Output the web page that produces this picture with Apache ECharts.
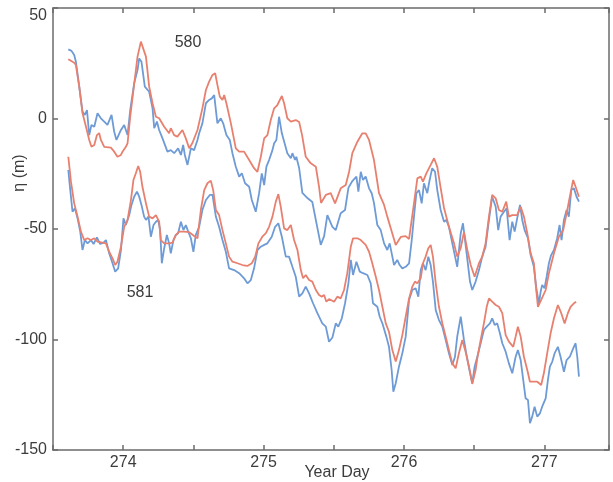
<!DOCTYPE html>
<html>
<head>
<meta charset="utf-8">
<script src="https://cdn.jsdelivr.net/npm/echarts@6/dist/echarts.min.js"></script>
<style>html,body{margin:0;padding:0;background:#fff}#c{width:613px;height:482px}</style>
</head>
<body>
<div id="c"></div>
<script>
// Year day ticks (labelled) and eta ticks
var xTickLabels = [274, 275, 276, 277];
var yTickLabels = [-150, -100, -50, 0, 50];
var seriesNames = ['580', '581'];

// Station 580, red trace  [year day, eta (m)]
var r580 = [[273.609,26.8],[273.651,25.2],[273.663,24.2],[273.687,14.4],[273.710,2.5],[273.735,-3.7],[273.758,-9.7],[273.774,-12.8],[273.794,-12.0],[273.813,-7.5],[273.829,-6.6],[273.841,-9.7],[273.865,-12.8],[273.912,-13.2],[273.936,-15.0],[273.959,-17.3],[273.984,-16.5],[273.995,-15.0],[274.019,-12.8],[274.031,-11.2],[274.050,0.8],[274.073,12.9],[274.102,28.0],[274.126,34.8],[274.137,34.8],[274.162,28.0],[274.185,14.4],[274.209,6.9],[274.233,0.8],[274.256,0.1],[274.292,-3.7],[274.327,-6.7],[274.339,-4.4],[274.363,-7.5],[274.386,-8.2],[274.422,-5.2],[274.446,-9.0],[274.470,-13.5],[274.493,-11.1],[274.529,-5.2],[274.564,4.6],[274.589,12.9],[274.612,16.7],[274.636,19.7],[274.655,20.5],[274.671,15.2],[274.688,9.9],[274.707,8.4],[274.719,10.6],[274.735,6.9],[274.767,-2.2],[274.802,-13.5],[274.826,-15.0],[274.861,-15.0],[274.897,-18.8],[274.932,-22.5],[274.956,-24.1],[274.980,-17.3],[275.004,-9.0],[275.027,-7.5],[275.051,-0.7],[275.075,4.6],[275.098,6.1],[275.130,10.2],[275.146,6.9],[275.169,0.1],[275.194,-1.4],[275.229,-0.7],[275.253,-1.6],[275.274,-7.5],[275.300,-17.3],[275.336,-20.3],[275.372,-21.8],[275.395,-30.9],[275.409,-38.2],[275.443,-34.6],[275.478,-33.8],[275.509,-38.4],[275.549,-31.6],[275.585,-30.1],[275.609,-24.1],[275.632,-15.7],[275.668,-10.5],[275.703,-6.7],[275.727,-6.7],[275.751,-9.7],[275.786,-18.8],[275.822,-33.8],[275.858,-39.1],[275.881,-44.4],[275.905,-49.5],[275.941,-57.2],[275.977,-53.6],[276.012,-53.2],[276.036,-54.5],[276.071,-38.4],[276.095,-27.1],[276.119,-26.3],[276.135,-28.6],[276.159,-24.8],[276.190,-21.0],[276.214,-18.0],[276.237,-21.9],[276.261,-31.4],[276.285,-40.5],[276.320,-49.0],[276.356,-56.5],[276.379,-62.5],[276.404,-58.6],[276.427,-51.4],[276.451,-59.5],[276.475,-66.3],[276.503,-71.6],[276.534,-65.5],[276.557,-62.5],[276.581,-56.5],[276.605,-44.4],[276.628,-34.6],[276.653,-36.1],[276.676,-41.4],[276.700,-42.2],[276.728,-37.6],[276.747,-44.4],[276.771,-43.7],[276.806,-43.7],[276.831,-39.9],[276.854,-44.4],[276.878,-51.9],[276.902,-61.0],[276.925,-65.5],[276.937,-74.6],[276.954,-85.2],[276.977,-82.1],[277.009,-77.6],[277.032,-70.0],[277.068,-61.0],[277.103,-53.5],[277.134,-50.5],[277.158,-42.9],[277.181,-35.4],[277.205,-27.8],[277.222,-30.9],[277.246,-35.4]];

// Station 580, blue trace
var b580 = [[273.609,31.3],[273.632,30.6],[273.651,28.7],[273.663,25.7],[273.687,14.4],[273.710,3.1],[273.727,1.6],[273.742,3.8],[273.758,-7.5],[273.774,-2.9],[273.794,-3.7],[273.817,2.4],[273.841,0.1],[273.865,-1.4],[273.888,-2.9],[273.917,1.6],[273.936,-6.0],[273.952,-9.7],[273.984,-5.2],[274.007,-2.9],[274.031,-7.5],[274.050,3.8],[274.078,15.9],[274.102,21.9],[274.114,27.2],[274.130,25.7],[274.154,14.4],[274.185,12.1],[274.209,4.6],[274.221,-4.4],[274.240,-1.4],[274.256,-5.2],[274.280,-9.0],[274.315,-15.0],[274.339,-14.3],[274.363,-15.7],[274.391,-13.5],[274.411,-16.5],[274.427,-12.0],[274.439,-16.5],[274.458,-21.0],[274.482,-13.5],[274.505,-14.3],[274.529,-9.7],[274.541,-6.7],[274.564,-2.2],[274.589,6.9],[274.612,8.4],[274.631,9.1],[274.648,10.6],[274.671,-2.2],[274.695,0.1],[274.712,-2.2],[274.735,-7.5],[274.759,-9.7],[274.778,-15.7],[274.802,-21.8],[274.826,-26.3],[274.845,-24.8],[274.868,-29.3],[274.897,-30.9],[274.916,-36.9],[274.944,-42.2],[274.968,-33.8],[274.987,-24.8],[275.004,-30.1],[275.020,-21.8],[275.039,-18.8],[275.063,-14.3],[275.075,-11.2],[275.091,-9.7],[275.110,0.8],[275.130,-6.7],[275.153,-12.0],[275.169,-15.7],[275.194,-18.0],[275.205,-15.7],[275.224,-18.8],[275.233,-17.3],[275.253,-22.4],[275.276,-33.7],[275.312,-36.0],[275.347,-37.8],[275.383,-49.5],[275.407,-57.2],[275.431,-53.2],[275.454,-43.7],[275.490,-49.0],[275.514,-50.5],[275.549,-42.9],[275.580,-41.4],[275.604,-31.4],[275.632,-28.3],[275.661,-26.3],[275.675,-33.1],[275.692,-24.1],[275.708,-27.8],[275.727,-26.3],[275.751,-31.6],[275.770,-33.8],[275.786,-38.2],[275.810,-48.2],[275.834,-50.5],[275.858,-56.5],[275.881,-59.5],[275.898,-56.5],[275.917,-62.5],[275.929,-66.3],[275.952,-64.0],[275.969,-66.3],[275.988,-67.8],[276.012,-67.1],[276.036,-65.5],[276.055,-55.0],[276.071,-44.4],[276.088,-33.8],[276.107,-32.4],[276.126,-38.4],[276.142,-29.3],[276.166,-33.8],[276.178,-29.3],[276.190,-25.6],[276.201,-22.5],[276.221,-24.1],[276.237,-32.4],[276.261,-41.4],[276.285,-46.7],[276.301,-45.9],[276.320,-49.0],[276.344,-56.5],[276.379,-67.1],[276.404,-51.9],[276.420,-47.4],[276.446,-61.0],[276.470,-73.8],[276.486,-77.6],[276.510,-73.8],[276.534,-68.6],[276.557,-62.5],[276.581,-58.0],[276.605,-45.9],[276.628,-35.4],[276.653,-39.9],[276.671,-50.5],[276.688,-44.4],[276.712,-42.2],[276.731,-40.6],[276.752,-55.0],[276.771,-46.7],[276.788,-51.2],[276.806,-45.2],[276.826,-39.1],[276.842,-45.9],[276.859,-50.5],[276.883,-54.2],[276.902,-61.8],[276.925,-67.1],[276.944,-77.6],[276.961,-83.6],[276.973,-78.4],[276.984,-75.3],[277.001,-76.8],[277.016,-71.6],[277.032,-65.5],[277.048,-61.8],[277.068,-59.5],[277.091,-54.2],[277.108,-48.2],[277.122,-55.0],[277.139,-45.9],[277.158,-41.4],[277.174,-44.4],[277.191,-32.4],[277.210,-31.6],[277.229,-35.4],[277.246,-37.6]];

// Station 581, red trace
var r581 = [[273.609,-17.3],[273.628,-28.6],[273.651,-38.4],[273.675,-44.4],[273.699,-51.2],[273.722,-55.0],[273.746,-54.2],[273.770,-55.0],[273.794,-54.2],[273.817,-55.7],[273.853,-56.2],[273.877,-56.5],[273.900,-60.3],[273.924,-63.3],[273.943,-66.3],[273.959,-64.8],[273.984,-58.0],[274.007,-49.0],[274.031,-45.9],[274.055,-36.9],[274.073,-27.8],[274.090,-24.8],[274.107,-21.5],[274.121,-24.1],[274.137,-30.9],[274.162,-38.4],[274.185,-44.4],[274.209,-45.2],[274.233,-43.7],[274.256,-46.7],[274.268,-55.0],[274.292,-56.5],[274.327,-56.5],[274.351,-56.2],[274.375,-52.7],[274.399,-51.2],[274.434,-51.2],[274.470,-51.4],[274.505,-53.2],[274.529,-54.2],[274.553,-41.4],[274.577,-32.4],[274.600,-29.3],[274.624,-28.1],[274.641,-32.4],[274.660,-41.4],[274.683,-43.7],[274.707,-50.5],[274.731,-56.5],[274.754,-62.5],[274.778,-64.8],[274.814,-65.5],[274.849,-66.3],[274.885,-66.7],[274.916,-65.5],[274.940,-62.5],[274.963,-56.5],[274.991,-53.5],[275.016,-51.9],[275.039,-49.0],[275.063,-44.4],[275.087,-37.6],[275.105,-34.2],[275.122,-39.9],[275.146,-49.7],[275.169,-50.5],[275.194,-48.2],[275.217,-55.0],[275.241,-59.5],[275.265,-68.6],[275.281,-72.3],[275.300,-70.8],[275.324,-73.1],[275.347,-73.8],[275.372,-77.6],[275.395,-79.9],[275.414,-80.6],[275.431,-79.9],[275.447,-82.9],[275.466,-81.7],[275.502,-82.9],[275.525,-80.6],[275.549,-81.4],[275.573,-77.6],[275.596,-70.0],[275.621,-58.0],[275.637,-54.2],[275.668,-54.2],[275.692,-55.0],[275.727,-57.2],[275.751,-60.3],[275.774,-65.5],[275.799,-71.6],[275.822,-77.6],[275.846,-85.2],[275.870,-92.7],[275.893,-96.5],[275.917,-104.8],[275.941,-110.0],[275.964,-104.8],[275.988,-98.0],[276.012,-89.7],[276.036,-81.4],[276.059,-76.1],[276.078,-73.8],[276.095,-74.6],[276.119,-72.3],[276.135,-65.5],[276.154,-62.5],[276.173,-58.7],[276.190,-57.2],[276.206,-62.5],[276.226,-74.6],[276.249,-85.2],[276.273,-92.7],[276.297,-98.7],[276.320,-104.8],[276.344,-110.8],[276.368,-113.0],[276.391,-106.2],[276.415,-100.2],[276.439,-105.7],[276.463,-112.3],[276.486,-120.1],[276.510,-113.8],[276.522,-108.5],[276.546,-100.2],[276.569,-92.7],[276.589,-85.2],[276.605,-81.4],[276.628,-82.9],[276.653,-84.4],[276.676,-85.2],[276.700,-88.1],[276.724,-98.0],[276.747,-101.0],[276.778,-103.3],[276.795,-98.7],[276.811,-94.2],[276.831,-98.7],[276.854,-107.8],[276.878,-113.8],[276.897,-119.1],[276.925,-119.1],[276.949,-119.1],[276.977,-120.6],[276.996,-115.3],[277.020,-106.2],[277.044,-97.2],[277.068,-90.4],[277.096,-84.4],[277.120,-88.1],[277.144,-92.7],[277.167,-88.1],[277.186,-85.2],[277.210,-83.6],[277.226,-82.9]];

// Station 581, blue trace
var b581 = [[273.609,-23.3],[273.623,-32.4],[273.639,-42.2],[273.656,-40.6],[273.675,-45.2],[273.694,-51.2],[273.710,-59.5],[273.727,-55.0],[273.746,-56.5],[273.770,-55.0],[273.789,-56.8],[273.813,-53.8],[273.836,-56.8],[273.860,-56.2],[273.877,-55.0],[273.900,-61.0],[273.924,-65.5],[273.943,-69.3],[273.964,-67.8],[273.984,-59.5],[274.002,-45.2],[274.019,-48.2],[274.043,-43.7],[274.059,-39.1],[274.078,-35.4],[274.098,-33.1],[274.114,-35.4],[274.130,-39.1],[274.149,-44.4],[274.162,-45.9],[274.180,-44.4],[274.197,-53.5],[274.216,-48.2],[274.233,-46.7],[274.249,-45.9],[274.263,-50.5],[274.275,-65.5],[274.292,-58.7],[274.311,-52.7],[274.327,-56.5],[274.339,-61.0],[274.358,-55.0],[274.375,-52.7],[274.391,-51.9],[274.411,-46.7],[274.429,-50.5],[274.446,-48.2],[274.463,-51.2],[274.482,-54.2],[274.500,-60.3],[274.517,-52.7],[274.541,-49.0],[274.564,-41.4],[274.589,-36.9],[274.617,-34.6],[274.636,-34.6],[274.660,-44.4],[274.683,-49.0],[274.707,-55.0],[274.731,-60.3],[274.754,-67.8],[274.790,-68.6],[274.826,-70.0],[274.861,-72.3],[274.885,-74.6],[274.909,-73.1],[274.932,-67.8],[274.956,-59.5],[274.980,-58.0],[275.004,-57.2],[275.027,-56.5],[275.058,-53.5],[275.082,-49.0],[275.105,-47.4],[275.130,-53.5],[275.158,-62.5],[275.181,-62.5],[275.205,-67.1],[275.229,-71.6],[275.253,-80.6],[275.276,-79.1],[275.300,-76.1],[275.324,-79.1],[275.352,-83.6],[275.383,-88.1],[275.418,-92.7],[275.443,-94.2],[275.466,-101.0],[275.490,-99.1],[275.514,-92.7],[275.532,-94.2],[275.557,-90.4],[275.580,-83.6],[275.604,-74.6],[275.621,-64.0],[275.637,-70.8],[275.661,-64.8],[275.685,-69.3],[275.708,-70.0],[275.739,-70.8],[275.763,-74.6],[275.779,-83.6],[275.810,-85.2],[275.827,-89.7],[275.846,-92.7],[275.874,-98.7],[275.893,-103.3],[275.912,-113.8],[275.924,-123.6],[275.941,-119.8],[275.964,-112.3],[275.988,-106.2],[276.012,-98.7],[276.036,-82.1],[276.059,-77.6],[276.083,-76.8],[276.102,-80.6],[276.119,-68.6],[276.135,-65.5],[276.154,-68.6],[276.173,-62.5],[276.190,-66.3],[276.206,-73.8],[276.226,-86.7],[276.249,-91.2],[276.273,-94.2],[276.297,-100.2],[276.320,-106.2],[276.344,-111.5],[276.363,-107.8],[276.379,-98.7],[276.404,-89.7],[276.427,-100.2],[276.443,-106.2],[276.463,-112.9],[276.486,-119.7],[276.503,-112.3],[276.522,-107.8],[276.546,-101.7],[276.569,-95.7],[276.589,-94.2],[276.612,-92.7],[276.628,-90.4],[276.646,-93.4],[276.664,-92.7],[276.683,-97.2],[276.700,-101.7],[276.724,-105.5],[276.747,-110.8],[276.771,-115.3],[276.795,-107.8],[276.811,-104.8],[276.831,-109.3],[276.849,-118.3],[276.866,-126.6],[276.883,-127.4],[276.897,-137.9],[276.913,-134.9],[276.930,-130.4],[276.949,-134.9],[276.968,-133.4],[276.984,-130.4],[277.009,-126.6],[277.025,-118.3],[277.039,-112.3],[277.056,-110.0],[277.073,-106.2],[277.096,-103.3],[277.115,-107.8],[277.139,-114.6],[277.158,-109.3],[277.181,-107.8],[277.205,-104.0],[277.222,-101.7],[277.234,-107.8],[277.246,-116.8]];

var RED = '#e8806f', BLUE = '#6e9bd6', AX = '#6b6b6b', TXT = '#3c3c3c';
var FONT = 'Liberation Sans, Arial, Helvetica, sans-serif';
var FS = 16;

var chart = echarts.init(document.getElementById('c'), null, {renderer: 'canvas'});
var baseX = {
  type: 'value', min: 273.5, max: 277.46, interval: 0.5,
  splitLine: {show: false},
  axisLine: {show: true, onZero: false, lineStyle: {color: AX, width: 1.5}},
  axisTick: {show: true, inside: true, length: 5, lineStyle: {color: AX, width: 1.5}}
};
var baseY = {
  type: 'value', min: -150, max: 50, interval: 50,
  splitLine: {show: false},
  axisLine: {show: true, onZero: false, lineStyle: {color: AX, width: 1.5}},
  axisTick: {show: true, inside: true, length: 5, lineStyle: {color: AX, width: 1.5}}
};
function lineSeries(name, data, color) {
  return {
    name: name, type: 'line', data: data, showSymbol: false, symbol: 'none',
    xAxisIndex: 0, yAxisIndex: 0,
    lineStyle: {color: color, width: 1.8}, itemStyle: {color: color},
    animation: false, silent: true
  };
}
chart.setOption({
  animation: false,
  backgroundColor: '#ffffff',
  grid: {left: 53, right: 4, top: 8, bottom: 32, containLabel: false},
  xAxis: [
    Object.assign({}, baseX, {
      position: 'bottom',
      axisLabel: {
        show: true, margin: 5, color: TXT, fontSize: FS, fontFamily: FONT,
        formatter: function (v) { return xTickLabels.indexOf(v) >= 0 ? String(v) : ''; }
      }
    }),
    Object.assign({}, baseX, {position: 'top', axisLabel: {show: false}})
  ],
  yAxis: [
    Object.assign({}, baseY, {
      position: 'left',
      axisLabel: {
        show: true, margin: 6, color: TXT, fontSize: FS, fontFamily: FONT,
        verticalAlignMaxLabel: 'top',
        formatter: function (v) { return yTickLabels.indexOf(v) >= 0 ? String(v) : ''; }
      }
    }),
    Object.assign({}, baseY, {position: 'right', axisLabel: {show: false}})
  ],
  series: [
    lineSeries(seriesNames[0] + ' blue', b580, BLUE),
    lineSeries(seriesNames[0] + ' red', r580, RED),
    lineSeries(seriesNames[1] + ' blue', b581, BLUE),
    lineSeries(seriesNames[1] + ' red', r581, RED)
  ],
  graphic: [
    {type: 'text', x: 337, y: 473, style: {text: 'Year Day', fill: TXT, font: '16px ' + FONT, align: 'center', verticalAlign: 'middle'}},
    {type: 'text', x: 20, y: 173, rotation: Math.PI / 2,
      style: {text: 'η (m)', fill: TXT, font: '16px ' + FONT, align: 'center', verticalAlign: 'middle'}},
    {type: 'text', x: 188, y: 43, style: {text: seriesNames[0], fill: TXT, font: '16px ' + FONT, align: 'center', verticalAlign: 'middle'}},
    {type: 'text', x: 140, y: 293, style: {text: seriesNames[1], fill: TXT, font: '16px ' + FONT, align: 'center', verticalAlign: 'middle'}}
  ]
});
</script>
</body>
</html>
